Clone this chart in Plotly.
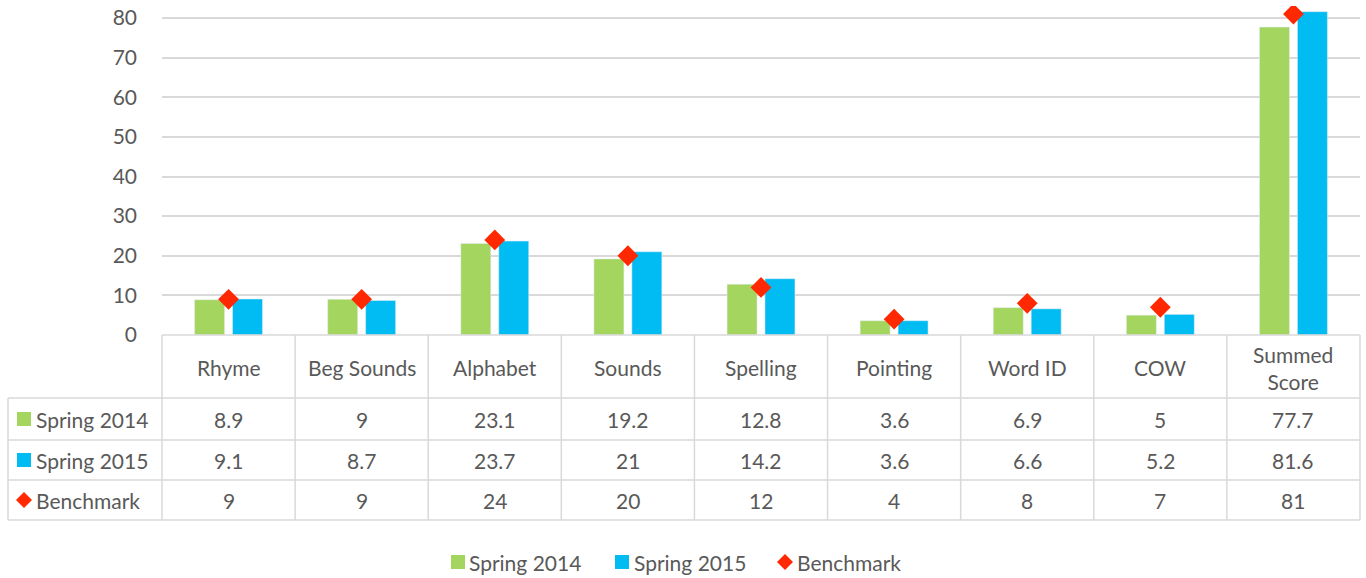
import plotly.graph_objects as go

categories = ["Rhyme", "Beg Sounds", "Alphabet", "Sounds", "Spelling",
              "Pointing", "Word ID", "COW", "Summed Score"]
category_labels = ["Rhyme", "Beg Sounds", "Alphabet", "Sounds", "Spelling",
                   "Pointing", "Word ID", "COW", "Summed<br>Score"]
spring_2014 = [8.9, 9, 23.1, 19.2, 12.8, 3.6, 6.9, 5, 77.7]
spring_2015 = [9.1, 8.7, 23.7, 21, 14.2, 3.6, 6.6, 5.2, 81.6]
benchmark = [9, 9, 24, 20, 12, 4, 8, 7, 81]
series_names = ["Spring 2014", "Spring 2015", "Benchmark"]
y_ticks = [0, 10, 20, 30, 40, 50, 60, 70, 80]

GREEN = "#A3D55F"
BLUE = "#00BCF2"
RED = "#FF2800"
TEXT = "#595959"
GRID = "#D9D9D9"
FONT = "Lato"
FS = 21

W, H = 1366, 578
PL, PR = 162, 1360       # plot area left / right (px)
Y0, Y80 = 335, 18        # pixel of value 0 and 80
k = (Y0 - Y80) / 80.0
PT = 6                   # top of plot area (px)
ymax = (Y0 - PT) / k

def px(x):
    return x / W

def py(y):
    return 1 - y / H

fig = go.Figure()
fig.add_trace(go.Bar(x=categories, y=spring_2014, name=series_names[0],
                     marker=dict(color=GREEN)))
fig.add_trace(go.Bar(x=categories, y=spring_2015, name=series_names[1],
                     marker=dict(color=BLUE)))
fig.add_trace(go.Scatter(x=categories, y=benchmark, name=series_names[2],
                         mode="markers",
                         marker=dict(symbol="diamond", size=16, color=RED)))

shapes = []
annotations = []

def hline(y, x0, x1):
    shapes.append(dict(type="line", xref="paper", yref="paper",
                       x0=px(x0), x1=px(x1), y0=py(y), y1=py(y),
                       line=dict(color=GRID, width=1.5)))

def vline(x, y0, y1):
    shapes.append(dict(type="line", xref="paper", yref="paper",
                       x0=px(x), x1=px(x), y0=py(y0), y1=py(y1),
                       line=dict(color=GRID, width=1.5)))

def text(x, y, s, anchor="center"):
    annotations.append(dict(xref="paper", yref="paper", x=px(x), y=py(y),
                            text=s, showarrow=False, xanchor=anchor,
                            yanchor="middle",
                            font=dict(family=FONT, size=FS, color=TEXT)))

def square(cx, cy, color, half=7):
    shapes.append(dict(type="rect", xref="paper", yref="paper",
                       x0=px(cx - half), x1=px(cx + half),
                       y0=py(cy + half), y1=py(cy - half),
                       fillcolor=color, line=dict(width=0)))

def diamond(cx, cy, color, r=8):
    path = (f"M {px(cx)},{py(cy - r)} L {px(cx + r)},{py(cy)} "
            f"L {px(cx)},{py(cy + r)} L {px(cx - r)},{py(cy)} Z")
    shapes.append(dict(type="path", xref="paper", yref="paper", path=path,
                       fillcolor=color, line=dict(width=0)))

# data table
n = len(categories)
colw = (PR - PL) / n
TL = 8
row_edges = [335, 398, 440, 480, 520]
hline(row_edges[0], PL, PR)
for y in row_edges[1:]:
    hline(y, TL, PR)
vline(TL, row_edges[1], row_edges[-1])
for i in range(n + 1):
    vline(PL + i * colw, row_edges[0], row_edges[-1])

cat_cy = (row_edges[0] + row_edges[1]) / 2 + 1
for i, lab in enumerate(category_labels):
    text(PL + (i + 0.5) * colw, cat_cy, lab)

rows = [spring_2014, spring_2015, benchmark]
colors = [GREEN, BLUE, RED]
for r, vals in enumerate(rows):
    cy = (row_edges[r + 1] + row_edges[r + 2]) / 2
    for i, v in enumerate(vals):
        text(PL + (i + 0.5) * colw, cy, f"{v:g}")
    if r < 2:
        square(24, cy, colors[r])
    else:
        diamond(24, cy, colors[r])
    text(34, cy, series_names[r], anchor="left")

# bottom legend
LY = 562
square(458, LY, GREEN)
text(467, LY, series_names[0], anchor="left")
square(622, LY, BLUE)
text(632, LY, series_names[1], anchor="left")
diamond(785, LY, RED)
text(795, LY, series_names[2], anchor="left")

fig.update_layout(
    width=W, height=H,
    margin=dict(l=0, r=0, t=0, b=0, pad=0, autoexpand=False),
    paper_bgcolor="white", plot_bgcolor="white",
    showlegend=False,
    barmode="group", bargap=0.43, bargroupgap=0.21,
    font=dict(family=FONT, size=FS, color=TEXT),
    xaxis=dict(domain=[px(PL), px(PR)], range=[-0.5, n - 0.5],
               showticklabels=False, showgrid=False, zeroline=False,
               showline=False, ticks="", automargin=False),
    yaxis=dict(domain=[py(Y0), py(PT)], range=[0, ymax],
               tickvals=y_ticks, showgrid=True, gridcolor=GRID, gridwidth=1.5,
               zeroline=False, showline=False, ticks="", automargin=False,
               ticklabelstandoff=24,
               tickfont=dict(family=FONT, size=FS, color=TEXT)),
    shapes=shapes,
    annotations=annotations,
)

post = (
    "var h=document.documentElement,b=document.body;"
    "[h,b].forEach(function(e){e.style.margin='0';e.style.padding='0';"
    "e.style.overflow='hidden';});"
)

fig.write_html(
    "out.html",
    config={"responsive": False, "displayModeBar": False},
    post_script=post,
)
